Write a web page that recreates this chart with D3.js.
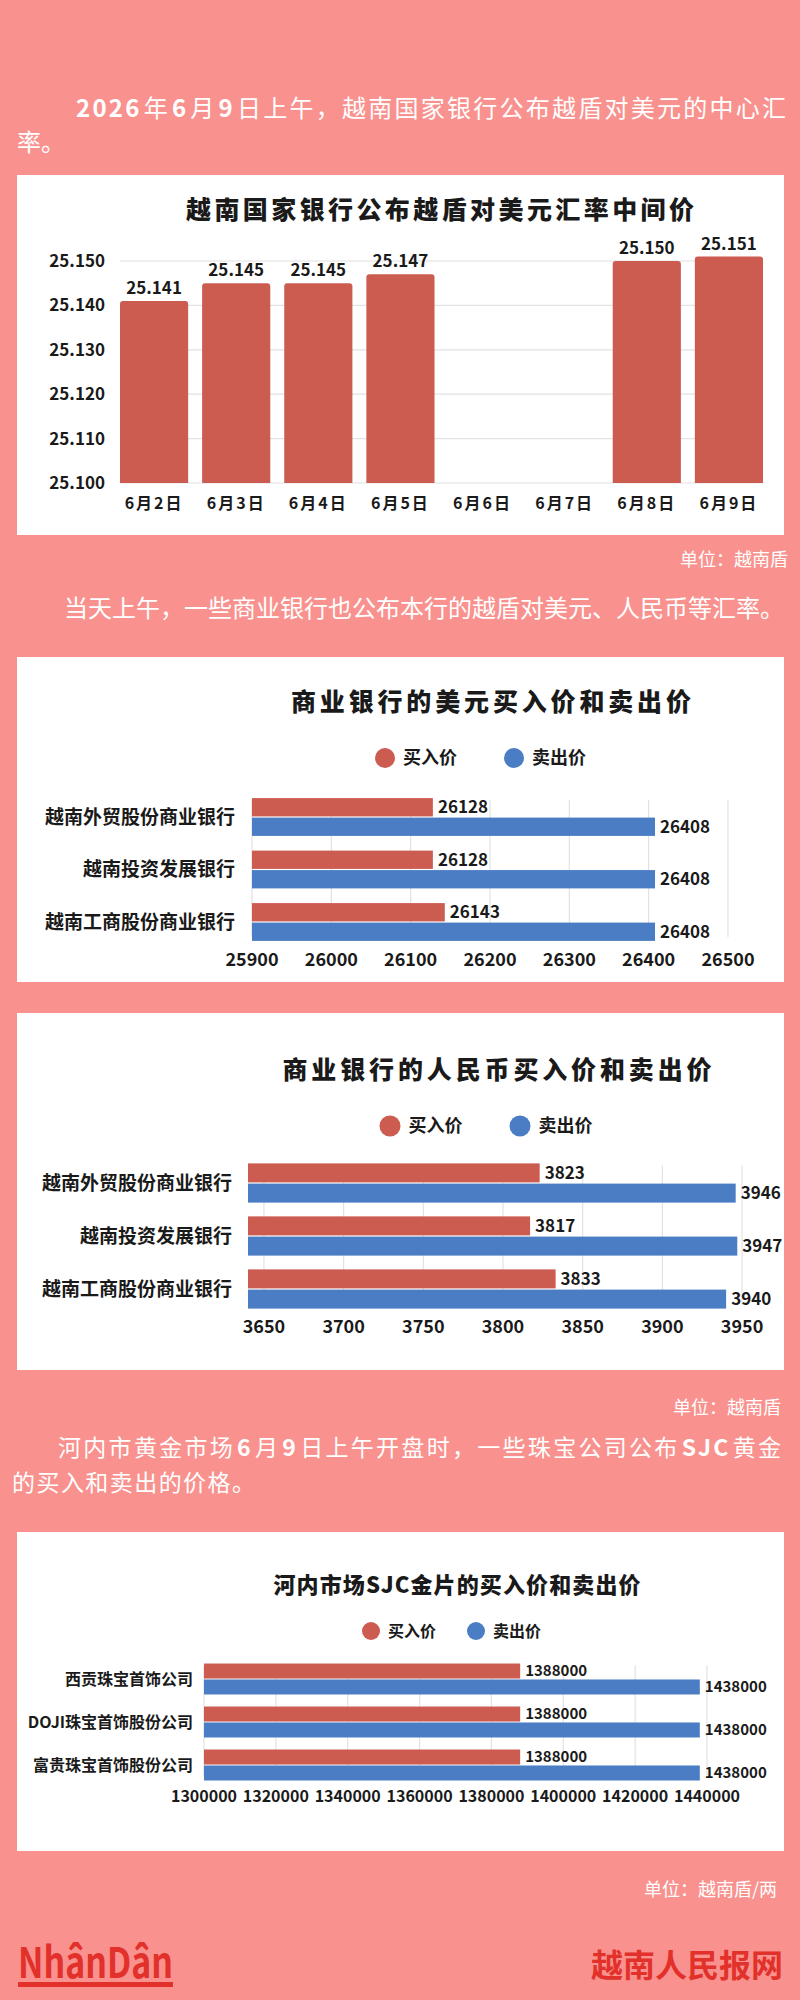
<!DOCTYPE html>
<html><head><meta charset="utf-8">
<script src="https://cdn.jsdelivr.net/npm/d3@7"></script>
<style>
html,body{margin:0;padding:0;background:#F9928E;}
svg{display:block;}
text{font-family:"Noto Sans CJK SC","Noto Sans",sans-serif;}
</style></head>
<body>
<svg id="c" width="800" height="2000"></svg>
<script>
// ---------- data ----------
const dates = ["6月2日","6月3日","6月4日","6月5日","6月6日","6月7日","6月8日","6月9日"];
const centralRate = [25141,25145,25145,25147,null,null,25150,25151];
const rateTicks = [25100,25110,25120,25130,25140,25150];

const series = ["买入价","卖出价"];
const banks = ["越南外贸股份商业银行","越南投资发展银行","越南工商股份商业银行"];
const usdBuy = [26128,26128,26143];
const usdSell = [26408,26408,26408];
const usdTicks = [25900,26000,26100,26200,26300,26400,26500];

const cnyBuy = [3823,3817,3833];
const cnySell = [3946,3947,3940];
const cnyTicks = [3650,3700,3750,3800,3850,3900,3950];

const goldCompanies = ["西贡珠宝首饰公司","DOJI珠宝首饰股份公司","富贵珠宝首饰股份公司"];
const goldBuy = [1388000,1388000,1388000];
const goldSell = [1438000,1438000,1438000];
const goldTicks = [1300000,1320000,1340000,1360000,1380000,1400000,1420000,1440000];

// ---------- style ----------
const RED = "#CC5B50", BLUE = "#4A7DC3", GRID = "#E2E2E2", INK = "#1a1a1a", WHITE = "#ffffff", BRAND = "#E2302A";
const svg = d3.select("#c");

svg.append("rect").attr("width",800).attr("height",2000).attr("fill","#F9928E");

function spread(t, len){
  const n = t.text().length;
  const w = t.node().getComputedTextLength();
  if (n > 1 && len > w) t.attr("letter-spacing", ((len - w) / (n - 1)).toFixed(2));
  return t;
}
// a line made of separate text pieces (bold digits), spread to a target width
function richLine(y, x, len, parts, size){
  const g = svg.append("g");
  const GAP = 2;
  const items = parts.map(p => {
    const t = g.append("text").attr("y",y).attr("fill",WHITE).attr("font-size",size)
      .attr("font-weight",p[1]?700:400).text(p[0]);
    return {t, n:p[0].length, w:t.node().getComputedTextLength()};
  });
  const total = d3.sum(items, d=>d.w) + GAP*(items.length-1), n = d3.sum(items, d=>d.n);
  const s = n > 1 ? Math.max(0, (len - total) / (n - 1)) : 0;
  let cx = x;
  items.forEach(it => {
    it.t.attr("x", cx.toFixed(2));
    if (it.n > 1) it.t.attr("letter-spacing", s.toFixed(2));
    cx += it.w + s * it.n + GAP;
  });
  return g;
}
richLine(117, 76, 710, [["2026",1],["年",0],["6",1],["月",0],["9",1],["日上午，越南国家银行公布越盾对美元的中心汇",0]], 24);
richLine(151, 17, 48, [["率。",0]], 24);

// cards
const cards = [[175,535],[657,982],[1013,1370],[1532,1851]];
cards.forEach(c=>svg.append("rect").attr("x",17).attr("y",c[0]).attr("width",767).attr("height",c[1]-c[0]).attr("fill",WHITE));

// ---------- chart 1 ----------
const fmtDot = v => d3.format(",")(v).replace(/,/g,".");
spread(svg.append("text").attr("x",186).attr("y",219).attr("font-size",25)
  .attr("font-weight",900).attr("fill",INK).text("越南国家银行公布越盾对美元汇率中间价"), 508);

const x1 = d3.scaleBand().domain(dates).range([120,763]).paddingInner(0.17).paddingOuter(0);
const y1 = d3.scaleLinear().domain([25100,25150]).range([483,261]);

const g1 = svg.append("g");
g1.append("g").selectAll("line").data(rateTicks).join("line")
  .attr("x1",120).attr("x2",763).attr("y1",d=>y1(d)).attr("y2",d=>y1(d))
  .attr("stroke",GRID).attr("stroke-width",1.2);
g1.append("g").selectAll("text").data(rateTicks).join("text")
  .attr("x",105).attr("y",d=>y1(d)+6).attr("text-anchor","end").attr("font-size",17)
  .attr("font-weight",700).attr("fill",INK).text(d=>fmtDot(d));

const barData1 = dates.map((d,i)=>({d, v:centralRate[i]})).filter(o=>o.v!=null);
g1.append("g").selectAll("path").data(barData1).join("path")
  .attr("fill",RED)
  .attr("d",o=>{
    const x=x1(o.d), w=x1.bandwidth(), top=y1(o.v), bot=y1(25100), r=3;
    return `M${x},${bot}V${top+r}Q${x},${top} ${x+r},${top}H${x+w-r}Q${x+w},${top} ${x+w},${top+r}V${bot}Z`;
  });
g1.append("g").selectAll("text").data(barData1).join("text")
  .attr("x",o=>x1(o.d)+x1.bandwidth()/2).attr("y",o=>y1(o.v)-7)
  .attr("text-anchor","middle").attr("font-size",17).attr("font-weight",700).attr("fill",INK)
  .text(o=>fmtDot(o.v));
g1.append("g").selectAll("text").data(dates).join("text")
  .attr("x",d=>x1(d)+x1.bandwidth()/2).attr("y",509).attr("text-anchor","middle")
  .attr("font-size",16).attr("font-weight",700).attr("fill",INK)
  .attr("letter-spacing",2).text(d=>d);

svg.append("text").attr("x",788).attr("y",566).attr("text-anchor","end").attr("font-size",18)
  .attr("fill",WHITE).text("单位：越南盾");
richLine(617, 64, 706, [["当天上午，一些商业银行也公布本行的越盾对美元、人民币等汇率。",0]], 24);

// ---------- horizontal grouped chart ----------
function hChart(o){
  const g = svg.append("g");
  spread(g.append("text").attr("x",o.titleX - o.titleLen/2).attr("y",o.titleY)
    .attr("font-size",o.titleSize).attr("font-weight",900).attr("fill",INK).text(o.title), o.titleLen);
  const col = [RED,BLUE];
  series.forEach((s,i)=>{
    g.append("circle").attr("cx",o.legX[i]).attr("cy",o.legY).attr("r",o.legR).attr("fill",col[i]);
    g.append("text").attr("x",o.legX[i]+o.legR+8).attr("y",o.legY+o.legSize*0.36)
      .attr("font-size",o.legSize).attr("font-weight",700).attr("fill",INK).text(s);
  });
  const x = d3.scaleLinear().domain(o.domain).range(o.xRange);
  const y = d3.scaleBand().domain(o.cats).range(o.yRange).paddingInner(o.pad).paddingOuter(o.pad/2);
  const ys = d3.scaleBand().domain(series).range([0,y.bandwidth()]).paddingInner(0.06);
  const gTop = y(o.cats[0]) + 2, gBot = y(o.cats[o.cats.length-1]) + y.bandwidth() - 4;
  g.append("g").selectAll("line").data(o.ticks).join("line")
    .attr("x1",d=>x(d)).attr("x2",d=>x(d)).attr("y1",gTop).attr("y2",gBot)
    .attr("stroke",GRID).attr("stroke-width",1.2);
  g.append("g").selectAll("text").data(o.ticks).join("text")
    .attr("x",d=>x(d)).attr("y",o.tickY).attr("text-anchor","middle")
    .attr("font-size",o.tickSize).attr("font-weight",700).attr("fill",INK).text(d=>d);
  g.append("g").selectAll("text").data(o.cats).join("text")
    .attr("x",o.catX).attr("y",d=>y(d)+y.bandwidth()/2+o.catSize*0.36).attr("text-anchor","end")
    .attr("font-size",o.catSize).attr("font-weight",700).attr("fill",INK).text(d=>d);
  const rows = [];
  o.cats.forEach((c,i)=>{
    rows.push({c, s:series[0], v:o.buy[i], col:RED});
    rows.push({c, s:series[1], v:o.sell[i], col:BLUE});
  });
  g.append("g").selectAll("rect").data(rows).join("rect")
    .attr("x",x(o.base)).attr("y",r=>y(r.c)+ys(r.s))
    .attr("width",r=>x(r.v)-x(o.base)).attr("height",ys.bandwidth()).attr("fill",r=>r.col);
  g.append("g").selectAll("text").data(rows).join("text")
    .attr("x",r=>x(r.v)+5).attr("y",r=>y(r.c)+ys(r.s)+ys.bandwidth()/2+o.valSize*0.36)
    .attr("font-size",o.valSize).attr("font-weight",700).attr("fill",INK).text(r=>r.v);
}

hChart({title:"商业银行的美元买入价和卖出价", titleX:491, titleY:711, titleSize:25, titleLen:400,
  legX:[385,514], legY:758, legR:10, legSize:18,
  cats:banks, buy:usdBuy, sell:usdSell, ticks:usdTicks, domain:[25900,26500], xRange:[252,728], base:25900,
  yRange:[790.75,948.25], pad:0.28, tickY:966, tickSize:18, catX:235, catSize:19, valSize:17});

hChart({title:"商业银行的人民币买入价和卖出价", titleX:497, titleY:1079, titleSize:25, titleLen:429,
  legX:[390,520], legY:1126, legR:10.5, legSize:18,
  cats:banks, buy:cnyBuy, sell:cnySell, ticks:cnyTicks, domain:[3640,3960], xRange:[248,758], base:3640,
  yRange:[1156.5,1315.5], pad:0.26, tickY:1333, tickSize:18, catX:232, catSize:19, valSize:17});

svg.append("text").attr("x",781).attr("y",1414).attr("text-anchor","end").attr("font-size",18)
  .attr("fill",WHITE).text("单位：越南盾");
richLine(1456, 58, 723, [["河内市黄金市场",0],["6",1],["月",0],["9",1],["日上午开盘时，一些珠宝公司公布",0],["SJC",1],["黄金",0]], 23);
richLine(1491, 12, 243, [["的买入和卖出的价格。",0]], 23);

hChart({title:"河内市场SJC金片的买入价和卖出价", titleX:457, titleY:1593, titleSize:22, titleLen:367,
  legX:[371,476], legY:1631, legR:9, legSize:16,
  cats:goldCompanies, buy:goldBuy, sell:goldSell, ticks:goldTicks, domain:[1300000,1440000], xRange:[204,707], base:1300000,
  yRange:[1657.5,1786.5], pad:0.28, tickY:1802, tickSize:16, catX:193, catSize:16, valSize:15});

svg.append("text").attr("x",777).attr("y",1896).attr("text-anchor","end").attr("font-size",18)
  .attr("fill",WHITE).text("单位：越南盾/两");

// footer
svg.append("text").attr("x",18).attr("y",1978).attr("font-family","'Liberation Sans Narrow',sans-serif")
  .attr("font-weight",700).attr("font-size",42).attr("fill",BRAND)
  .attr("textLength",155).attr("lengthAdjust","spacingAndGlyphs").text("NhânDân");
svg.append("rect").attr("x",18).attr("y",1982).attr("width",155).attr("height",5).attr("fill",BRAND);
svg.append("text").attr("x",783).attr("y",1977).attr("text-anchor","end").attr("font-size",32)
  .attr("font-weight",700).attr("fill",BRAND).text("越南人民报网");
</script>
</body></html>
